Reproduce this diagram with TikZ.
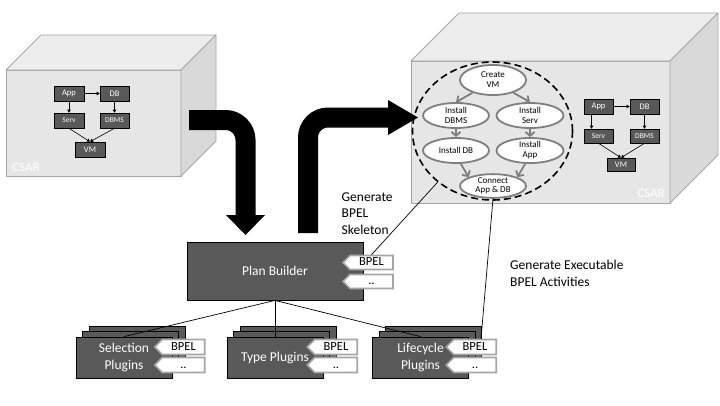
\documentclass[tikz,border=0pt]{standalone}
\usepackage{fontspec}
\setmainfont{Carlito}
\usetikzlibrary{shapes.geometric,shapes.symbols,arrows.meta}
\definecolor{dark}{HTML}{595959}
\definecolor{cfront}{HTML}{E6E6E6}
\definecolor{ctop}{HTML}{EDEDED}
\definecolor{cside}{HTML}{D9D9D9}
\definecolor{cedge}{HTML}{A6A6A6}
\definecolor{tagedge}{HTML}{A6A6A6}
\definecolor{ellgray}{HTML}{7F7F7F}
\begin{document}
\begin{tikzpicture}[x=1pt,y=-1pt,
 font=\fontsize{13.5}{16.5}\selectfont,
 face/.style={draw=cedge, line width=0.8pt, line join=round},
 smallbox/.style={draw=black, line width=0.6pt, fill=dark, text=white, inner sep=0, font=\fontsize{8.5}{10}\selectfont},
 smallerbox/.style={smallbox, font=\fontsize{7.5}{9}\selectfont},
 smallarrow/.style={-{Triangle[length=3pt,width=3.5pt]}, line width=0.6pt},
 activity/.style={ellipse, draw=ellgray, line width=1.8pt, fill=white, inner sep=0, align=center, font=\fontsize{9}{10}\selectfont},
 flow/.style={draw=ellgray, line width=1.8pt, -{Straight Barb[length=4pt,width=9pt]}},
 bigbox/.style={draw=black, line width=0.8pt, fill=dark, text=white, inner sep=0, align=center},
 plugin/.style={bigbox, minimum width=96pt, minimum height=41pt},
 tag/.style={signal, signal to=west, draw=tagedge, line width=1.6pt, fill=white, inner sep=0, minimum width=50pt, minimum height=14pt, text height=9pt, text depth=3pt, font=\fontsize{12.5}{14}\selectfont},
 link/.style={line width=0.7pt},
 bigarrow/.style={line width=20pt, rounded corners=20pt},
 csarlabel/.style={text=white, font=\fontsize{13}{14}\selectfont, inner sep=0},
]
\fill[white] (0,0) rectangle (720,405);
\useasboundingbox (0,0) rectangle (720,405);

% ---- left CSAR cube
\filldraw[face, fill=cfront] (6,70) rectangle (181,176);
\filldraw[face, fill=ctop] (6,70) -- (41,35) -- (216,35) -- (181,70) -- cycle;
\filldraw[face, fill=cside] (181,70) -- (216,35) -- (216,141) -- (181,176) -- cycle;
\node[csarlabel, anchor=base west] (csarl) at (12,171.5) {CSAR};

\node[smallbox, minimum width=30pt, minimum height=15pt] (lapp) at (69,93.5) {App};
\node[smallbox, minimum width=29pt, minimum height=15pt] (ldb) at (114.5,93.5) {DB};
\node[smallerbox, minimum width=30pt, minimum height=15pt] (lserv) at (69,120.5) {Serv};
\node[smallerbox, minimum width=29pt, minimum height=15pt] (ldbms) at (114.5,120.5) {DBMS};
\node[smallbox, minimum width=30pt, minimum height=15pt] (lvm) at (90,149.5) {VM};
\draw[smallarrow] (lapp) -- (ldb);
\draw[smallarrow] (lapp) -- (lserv);
\draw[smallarrow] (ldb) -- (ldbms);
\draw[smallarrow] (lserv.south) -- (lvm.north);
\draw[smallarrow] (ldbms.south) -- (lvm.north);

% ---- right CSAR cube
\filldraw[face, fill=cfront] (411,61) rectangle (670,203);
\filldraw[face, fill=ctop] (411,61) -- (459,13) -- (718,13) -- (670,61) -- cycle;
\filldraw[face, fill=cside] (670,61) -- (718,13) -- (718,155) -- (670,203) -- cycle;
\node[csarlabel, anchor=base east] (csarr) at (665,197) {CSAR};

\node[smallbox, minimum width=29pt, minimum height=15pt] (rapp) at (598.5,106.5) {App};
\node[smallbox, minimum width=29pt, minimum height=15pt] (rdb) at (644.5,106.5) {DB};
\node[smallerbox, minimum width=29pt, minimum height=14pt] (rserv) at (598.5,136) {Serv};
\node[smallerbox, minimum width=29pt, minimum height=14pt] (rdbms) at (644.5,136) {DBMS};
\node[smallbox, minimum width=28pt, minimum height=13pt] (rvm) at (621,164.5) {VM};
\draw[smallarrow] (rapp) -- (rdb);
\draw[smallarrow] ([xshift=-7pt]rapp.south) -- ([xshift=-7pt]rserv.north);
\draw[smallarrow] (rdb) -- (rdbms);
\draw[smallarrow] (rserv.south) -- (rvm.north);
\draw[smallarrow] (rdbms.south) -- (rvm.north);

% ---- plan (dashed ellipse) with activities
\node[ellipse, draw, line width=1.6pt, dash pattern=on 7pt off 4pt, minimum width=160pt, minimum height=138pt, inner sep=0] (plan) at (492.5,131) {};
\node[activity, minimum width=66pt, minimum height=30pt] (cvm) at (493,80) {Create\\VM};
\node[activity, minimum width=66pt, minimum height=25pt] (idbms) at (456,115.5) {Install\\DBMS};
\node[activity, minimum width=67pt, minimum height=25pt] (iserv) at (530,115.5) {Install\\Serv};
\node[activity, minimum width=66pt, minimum height=25pt] (idb) at (456,150.5) {Install DB};
\node[activity, minimum width=67pt, minimum height=25pt] (iapp) at (530,150.5) {Install\\App};
\node[activity, minimum width=66pt, minimum height=22pt, font=\fontsize{9}{9.5}\selectfont] (conn) at (493,186) {Connect\\App \& DB};
\draw[flow] (cvm.212) -- (idbms.north);
\draw[flow] (cvm.328) -- (iserv.north);
\draw[flow] (idbms.south) -- (idb.north);
\draw[flow] (iserv.south) -- (iapp.north);
\draw[flow] (idb.-70) -- (conn.160);
\draw[flow] (iapp.-110) -- (conn.20);

% ---- big arrows
\coordinate (a1s) at (189,120);
\coordinate (a1c) at (245.5,120);
\coordinate (a1e) at (245.5,215.5);
\draw[bigarrow] (a1s) -- (a1c) -- (a1e);
\fill (226,215) -- (265,215) -- (245.5,235) -- cycle;

\coordinate (a2s) at (308,233);
\coordinate (a2c) at (308,117.5);
\coordinate (a2e) at (388.5,117.5);
\draw[bigarrow] (a2s) -- (a2c) -- (a2e);
\fill (388,100) -- (418,117.5) -- (388,135) -- cycle;

% ---- plan builder
\node[bigbox, minimum width=176pt, minimum height=58pt] (pb) at (275,271) {Plan Builder};
\node[tag] (pbt1) at (371.5,262.5) {BPEL};
\node[tag] (pbt2) at (371.5,281.5) {..};

% ---- plugins
\node[plugin] (selb2) at (137,346.5) {};
\node[plugin] (selb1) at (130.5,352) {};
\node[plugin] (self) at (124,357.5) {Selection\\Plugins};
\node[tag, minimum height=15pt] (selt1) at (183.5,347) {BPEL};
\node[tag, minimum height=15pt] (selt2) at (183.5,365) {..};

\node[plugin] (typb2) at (288,346.5) {};
\node[plugin] (typb1) at (281.5,352) {};
\node[plugin] (typf) at (275,357.5) {Type Plugins};
\node[tag, minimum height=15pt] (typt1) at (336,347) {BPEL};
\node[tag, minimum height=15pt] (typt2) at (336,365) {..};

\node[plugin] (lcb2) at (433.5,346.5) {};
\node[plugin] (lcb1) at (427,352) {};
\node[plugin] (lcf) at (420.5,357.5) {Lifecycle\\Plugins};
\node[tag, minimum height=15pt] (lct1) at (475,347) {BPEL};
\node[tag, minimum height=15pt] (lct2) at (475,365) {..};

% ---- connectors
\draw[link] (pb.south) -- (self.north);
\draw[link] (pb.south) -- (typf.north);
\draw[link] (pb.south) -- (lcf.north);
\draw[link] (pbt1.north) -- (plan.223);
\draw[link] (conn.south) -- ([xshift=6pt]lct1.north);

% ---- labels
\node[anchor=north west, inner sep=0, align=left] (lbl1) at (341.5,192.5) {Generate\\BPEL\\Skeleton};
\node[anchor=north west, inner sep=0, align=left] (lbl2) at (510,260) {Generate Executable\\BPEL Activities};
\end{tikzpicture}
\end{document}
